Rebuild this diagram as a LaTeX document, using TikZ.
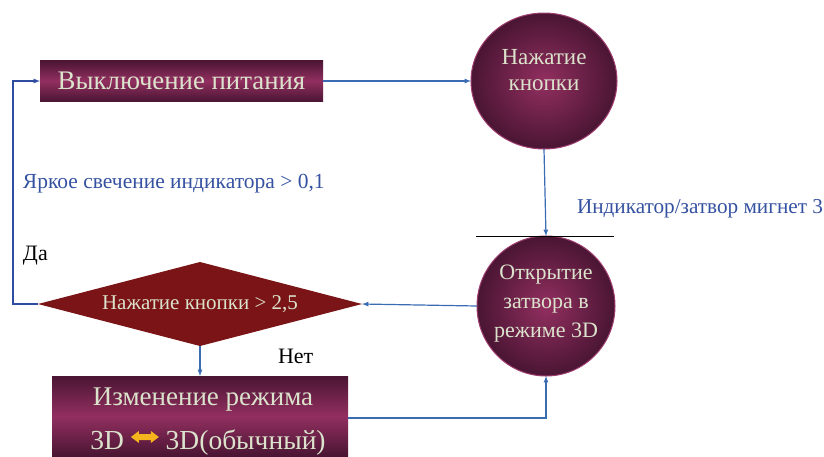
\documentclass[tikz,border=0pt]{standalone}
\usepackage{fontspec}
\setmainfont{Liberation Serif}
\usetikzlibrary{shapes.geometric}

\definecolor{plumdark}{HTML}{4A1533}
\definecolor{plummid}{HTML}{922F60}
\definecolor{plumedge}{HTML}{9E3D70}
\definecolor{wine}{HTML}{7A1416}
\definecolor{paletext}{HTML}{DCE3CC}
\definecolor{linkblue}{HTML}{3A6CB4}
\definecolor{loopblue}{HTML}{2E4DA0}
\definecolor{labelblue}{HTML}{3552A0}
\definecolor{swaporange}{HTML}{F5B41E}

\newcommand\modeswap{\tikz[x=1pt,y=1pt,baseline=-12pt]\fill[swaporange] (0,0) -- (8,6) -- (8,3) -- (20,3) -- (20,6) -- (28,0) -- (20,-6) -- (20,-3) -- (8,-3) -- (8,-6) -- cycle;}

\begin{document}
\begin{tikzpicture}[x=1pt,y=-1pt,
  every node/.style={outer sep=0pt},
  procbox/.style={rectangle, top color=plumdark, bottom color=plumdark, middle color=plummid, text=paletext, inner sep=0pt},
  roundbox/.style={ellipse, draw=plumedge, line width=1pt, inner color=plummid, outer color=plumdark, inner sep=0pt},
  roundtext/.style={text=paletext, align=center, inner sep=0pt},
  link/.style={draw=linkblue, line width=1.2pt, -latex},
  note/.style={text=labelblue, font=\fontsize{21.5}{25}\selectfont, inner sep=0pt}]

\useasboundingbox (0,0) rectangle (824,456);

% blocks
\node[procbox, minimum width=283pt, minimum height=41pt, font=\fontsize{26.8}{30}\selectfont] (off) at (181.5,81) {Выключение питания};
\node[roundbox, minimum width=146pt, minimum height=136pt] (press) at (544,81) {};
\node[roundtext, font=\fontsize{23}{26}\selectfont] (presstext) at ([yshift=11pt]press.center) {Нажатие\\кнопки};
\node[roundbox, minimum width=138pt, minimum height=140pt] (open) at (546,306) {};
\node[roundtext, font=\fontsize{22}{29}\selectfont] (opentext) at ([yshift=2pt]open.center) {Открытие\\затвора в\\режиме 3D};
\node[diamond, aspect=3.86, fill=wine, text=paletext, minimum width=324pt, minimum height=84pt, inner sep=0pt, font=\fontsize{21}{24}\selectfont] (check) at (200,304) {Нажатие кнопки > 2,5};
\node[procbox, minimum width=296pt, minimum height=80pt] (mode) at (200,416) {};
\node[anchor=base, text=paletext, inner sep=0pt, font=\fontsize{27}{30}\selectfont] (modetop) at (203,405) {Изменение режима};
\node[anchor=base, text=paletext, inner sep=0pt, font=\fontsize{27.5}{30}\selectfont] (modebot) at (208,449) {3D \modeswap{} 3D(обычный)};

% black bar above the second circle
\draw[line width=0.8pt] (476,236) coordinate (barl) -- (614,236) coordinate (barr);

% connectors
\draw[link] (off.east) -- (press.west);
\draw[link] (press.south) -- (open.north);
\draw[link] (open.west) -- (check.east);
\draw[link] (check.south) -- (mode.north);
\draw[link] (mode.east |- 0,418) -| (open.south);
\draw[draw=loopblue, line width=1.2pt, -latex] (check.west) -- (13,304) |- (off.west);

% labels
\node[note, anchor=base west] (bright) at (23,188) {Яркое свечение индикатора > 0,1};
\node[note, anchor=base west, font=\fontsize{21.2}{25}\selectfont] (blink) at (577,213) {Индикатор/затвор мигнет 3};
\node[anchor=base west, inner sep=0pt, font=\fontsize{22}{24}\selectfont] (yes) at (23,260) {Да};
\node[anchor=base west, inner sep=0pt, font=\fontsize{22}{24}\selectfont] (no) at (278,363) {Нет};
\end{tikzpicture}
\end{document}
